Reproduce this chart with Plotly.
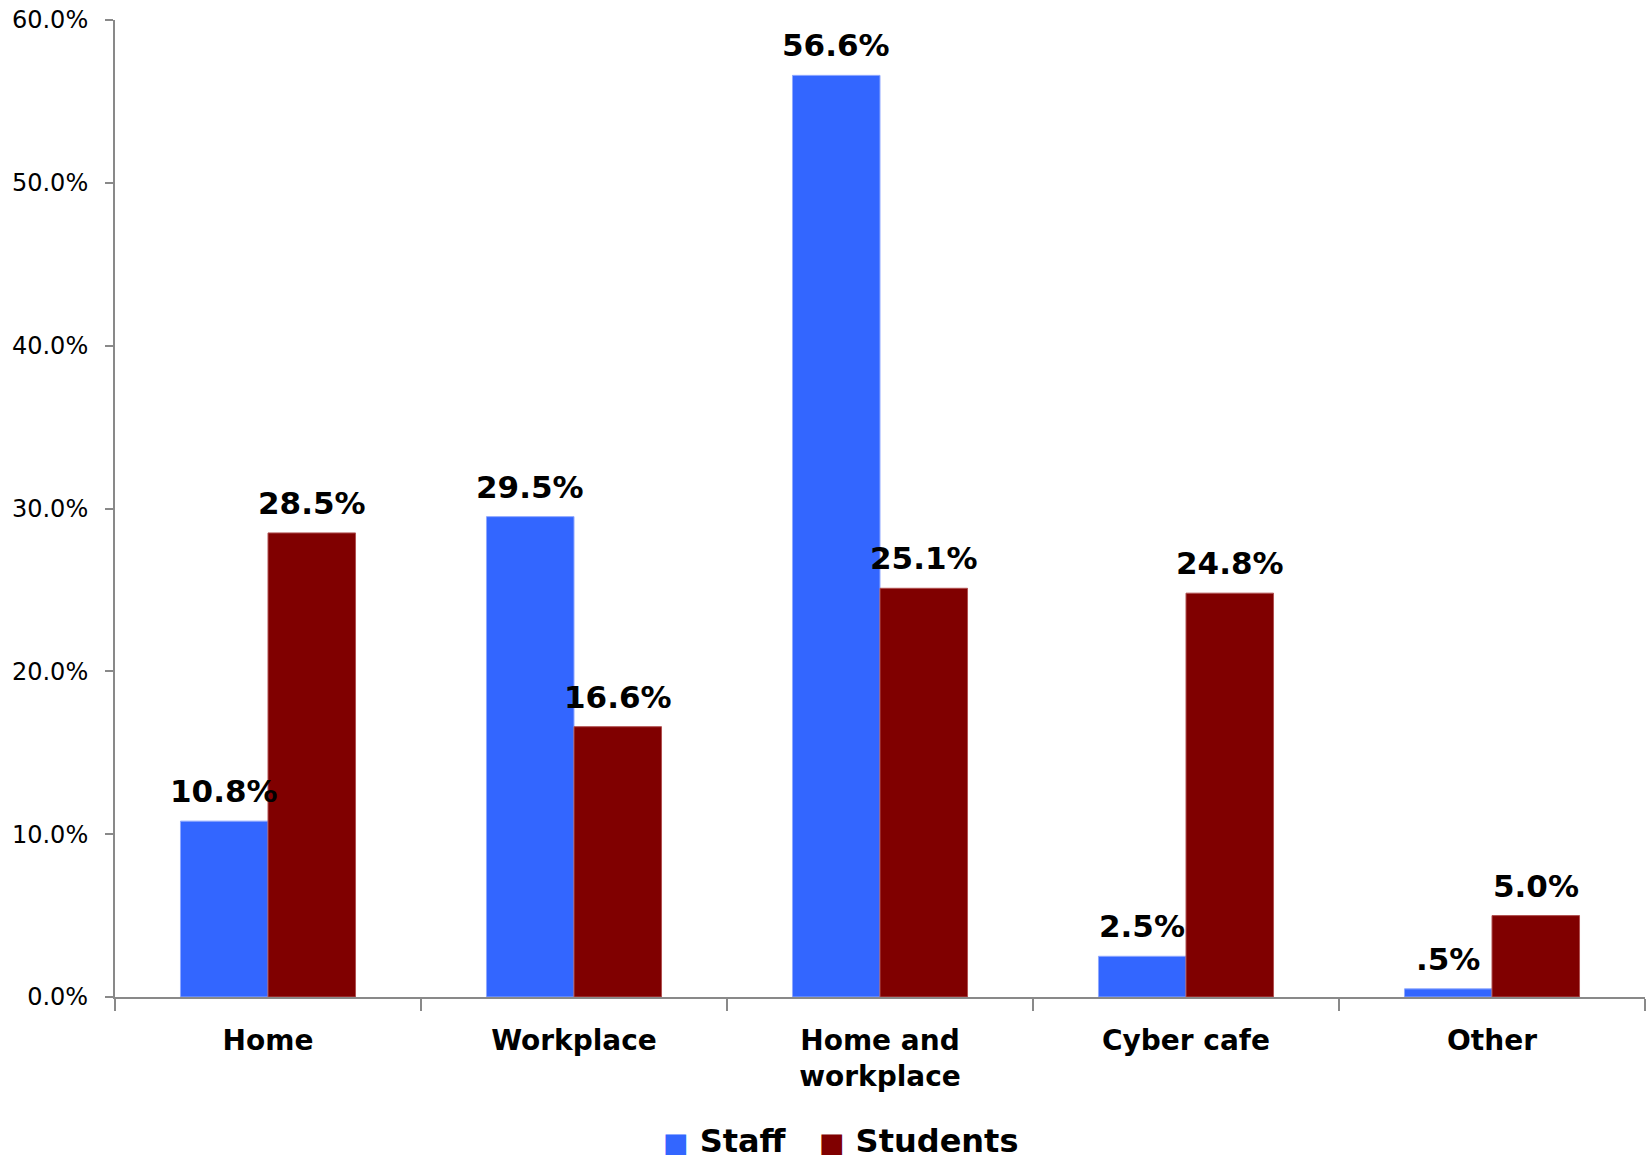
import plotly.graph_objects as go

# Survey data: place of internet access (% of respondents)
categories = ["Home", "Workplace", "Home and<br>workplace", "Cyber cafe", "Other"]
staff = [10.8, 29.5, 56.6, 2.5, 0.5]
students = [28.5, 16.6, 25.1, 24.8, 5.0]
y_ticks = [0, 10, 20, 30, 40, 50, 60]

STAFF_COLOR = "#3366FF"
STUDENT_COLOR = "#800000"
FONT = "DejaVu Sans"
BARGAP = 0.428


def pct_label(v):
    s = f"{v:.1f}%"
    return s[1:] if s.startswith("0.") else s


fig = go.Figure()
fig.add_trace(go.Bar(
    x=categories, y=staff, name="Staff",
    marker=dict(color=STAFF_COLOR, line=dict(color="#8fa8ff", width=1)),
    showlegend=False,
))
fig.add_trace(go.Bar(
    x=categories, y=students, name="Students",
    marker=dict(color=STUDENT_COLOR, line=dict(color="#b05050", width=1)),
    showlegend=False,
))

# value labels above each bar
half = (1 - BARGAP) / 4
for i in range(len(categories)):
    for vals, off in ((staff, -half), (students, half)):
        fig.add_annotation(
            x=i + off, y=vals[i], xref="x", yref="y",
            text=pct_label(vals[i]), showarrow=False,
            yanchor="bottom", yshift=10,
            font=dict(family=FONT, size=31, color="black", weight="bold"),
        )

# legend row
fig.add_annotation(
    x=0.4739, y=-0.1470, xref="paper", yref="paper",
    xanchor="center", yanchor="middle", showarrow=False,
    text=(f"<span style='color:{STAFF_COLOR};font-size:27px'>■</span> Staff   "
          f"<span style='color:{STUDENT_COLOR};font-size:27px'>■</span> Students"),
    font=dict(family=FONT, size=32, color="black", weight="bold"),
)

fig.update_layout(
    width=1650, height=1159,
    margin=dict(l=115, r=5, t=20, b=162),
    paper_bgcolor="white", plot_bgcolor="white",
    barmode="group", bargap=BARGAP, bargroupgap=0,
    font=dict(family=FONT, color="black"),
)
fig.update_xaxes(
    type="category",
    tickson="boundaries", ticks="outside", ticklen=12, tickwidth=2, tickcolor="#898989",
    showline=True, linecolor="#898989", linewidth=2,
    showgrid=False, zeroline=False,
    tickfont=dict(family=FONT, size=28, color="black", weight="bold"),
    ticklabelstandoff=17,
)
fig.update_yaxes(
    range=[0, 60], tickmode="array", tickvals=y_ticks,
    ticktext=[f"{v:.1f}%" for v in y_ticks],
    ticks="outside", ticklen=8, tickwidth=2, tickcolor="#898989",
    showline=True, linecolor="#898989", linewidth=2,
    showgrid=False, zeroline=False,
    tickfont=dict(family=FONT, size=24, color="black"),
    ticklabelstandoff=12,
)

fig.write_html("out.html")
